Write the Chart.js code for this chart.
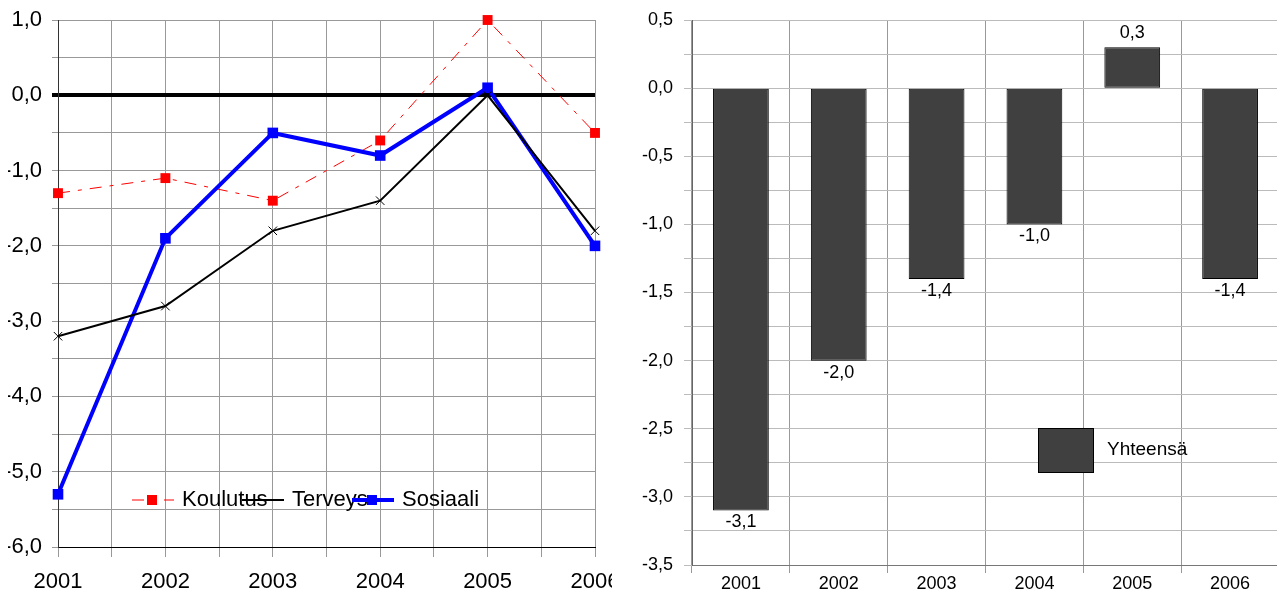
<!DOCTYPE html>
<html>
<head>
<meta charset="utf-8">
<script src="https://cdn.jsdelivr.net/npm/chart.js@4/dist/chart.umd.min.js"></script>
<style>
html, body { margin: 0; padding: 0; background: #fff; overflow: hidden; width: 1277px; height: 594px; }
#clip { position: absolute; left: 8px; top: 0; width: 604px; height: 594px; overflow: hidden; }
#left { position: absolute; left: -16px; top: 0; width: 620px; height: 594px; }
#right { position: absolute; left: 612px; top: 0; width: 670px; height: 594px; }
</style>
</head>
<body>
<div id="clip"><div id="left"><canvas id="lineChart"></canvas></div></div>
<div id="right"><canvas id="barChart"></canvas></div>
<script>
const years = [2001, 2002, 2003, 2004, 2005, 2006];
const koulutus = [-1.3, -1.1, -1.4, -0.6, 1.0, -0.5];
const terveys = [-3.2, -2.8, -1.8, -1.4, 0.0, -1.8];
const sosiaali = [-5.3, -1.9, -0.5, -0.8, 0.1, -2.0];
const yhteensa = [-3.1, -2.0, -1.4, -1.0, 0.3, -1.4];
const seriesNames = ['Koulutus', 'Terveys', 'Sosiaali'];
const totalName = 'Yhteensä';

const FONT = "'Liberation Sans', Arial, sans-serif";
Chart.defaults.font.family = FONT;
Chart.defaults.color = '#000';

const comma = v => v.toFixed(1).replace('.', ',');
const pts = vals => vals.map((v, i) => ({ x: years[i], y: v }));

// legend drawn inside the plot, like the original
const lineLegend = {
    id: 'lineLegend',
    afterDraw(chart) {
        const ctx = chart.ctx, a = chart.chartArea;
        const y = a.top + 480;
        ctx.save();
        ctx.font = '22px ' + FONT;
        ctx.textBaseline = 'middle';
        chart.data.datasets.forEach((ds, i) => {
            const x0 = a.left + 74 + i * 110;
            ctx.strokeStyle = ds.borderColor;
            ctx.lineWidth = ds.borderWidth;
            ctx.setLineDash(ds.borderDash || []);
            ctx.beginPath();
            ctx.moveTo(x0, y);
            ctx.lineTo(x0 + 42, y);
            ctx.stroke();
            ctx.setLineDash([]);
            if (ds.pointStyle === 'rect') {
                ctx.fillStyle = ds.borderColor;
                ctx.fillRect(x0 + 15, y - 5, 10, 10);
            }
            ctx.fillStyle = '#000';
            ctx.fillText(ds.label, x0 + 50, y);
        });
        ctx.restore();
    }
};

new Chart(document.getElementById('lineChart'), {
    type: 'line',
    data: {
        datasets: [
            {
                label: seriesNames[0], data: pts(koulutus),
                borderColor: '#ff0000', backgroundColor: '#ff0000', pointBackgroundColor: '#ff0000',
                borderWidth: 1, borderDash: [12, 8, 4, 8],
                pointStyle: 'rect', pointRadius: 7, pointBorderWidth: 0, clip: false, order: 3
            },
            {
                label: seriesNames[1], data: pts(terveys),
                borderColor: '#000', backgroundColor: '#000', pointBorderColor: '#000',
                borderWidth: 2,
                pointStyle: 'crossRot', pointRadius: 6, pointBorderWidth: 1, clip: false, order: 1
            },
            {
                label: seriesNames[2], data: pts(sosiaali),
                borderColor: '#0000ff', backgroundColor: '#0000ff', pointBackgroundColor: '#0000ff',
                borderWidth: 4,
                pointStyle: 'rect', pointRadius: 7.5, pointBorderWidth: 0, clip: false, order: 2
            }
        ]
    },
    options: {
        animation: false,
        responsive: true,
        maintainAspectRatio: false,
        layout: { padding: { left: 0, right: 17, top: 20, bottom: 0 } },
        plugins: { legend: { display: false }, tooltip: { enabled: false } },
        elements: { line: { tension: 0 } },
        scales: {
            x: {
                type: 'linear', min: 2001, max: 2006,
                ticks: {
                    stepSize: 0.5, autoSkip: false, maxRotation: 0, minRotation: 0,
                    font: { size: 22 }, padding: 12,
                    callback: v => Number.isInteger(v) ? String(v) : ''
                },
                grid: { color: '#999', tickLength: 10 },
                border: { color: '#000', width: 1 },
                afterFit: s => { s.height = 47; s.paddingLeft = 0; s.paddingRight = 0; }
            },
            y: {
                min: -6, max: 1,
                ticks: {
                    stepSize: 0.5, autoSkip: false, font: { size: 22 }, padding: 10,
                    callback: v => Number.isInteger(v) ? comma(v) : ''
                },
                grid: {
                    tickLength: 6,
                    color: c => c.tick && c.tick.value === 0 ? '#000' : '#999',
                    lineWidth: c => c.tick && c.tick.value === 0 ? 4 : 1
                },
                border: { color: '#333', width: 1 },
                afterFit: s => { s.width = 66; s.paddingTop = 0; s.paddingBottom = 0; }
            }
        }
    },
    plugins: [lineLegend]
});

const barLabels = {
    id: 'barLabels',
    afterDatasetsDraw(chart) {
        const ctx = chart.ctx;
        const meta = chart.getDatasetMeta(0);
        ctx.save();
        ctx.font = '18px ' + FONT;
        ctx.fillStyle = '#000';
        ctx.textAlign = 'center';
        ctx.textBaseline = 'middle';
        meta.data.forEach((bar, i) => {
            const v = chart.data.datasets[0].data[i];
            ctx.fillText(comma(v), bar.x, v < 0 ? bar.y + 12 : bar.y - 14);
        });
        ctx.restore();
    }
};

const barLegend = {
    id: 'barLegend',
    afterDraw(chart) {
        const ctx = chart.ctx, a = chart.chartArea;
        const ds = chart.data.datasets[0];
        ctx.save();
        ctx.fillStyle = ds.backgroundColor;
        ctx.fillRect(a.left + 346, a.top + 408, 56, 45);
        ctx.strokeStyle = ds.borderColor;
        ctx.lineWidth = 1;
        ctx.strokeRect(a.left + 346.5, a.top + 408.5, 55, 44);
        ctx.font = '19px ' + FONT;
        ctx.fillStyle = '#000';
        ctx.textBaseline = 'middle';
        ctx.fillText(ds.label, a.left + 415, a.top + 430);
        ctx.restore();
    }
};

new Chart(document.getElementById('barChart'), {
    type: 'bar',
    data: {
        labels: years.map(String),
        datasets: [{
            label: totalName, data: yhteensa,
            backgroundColor: '#404040', borderColor: '#000', borderWidth: 1, borderSkipped: false,
            categoryPercentage: 0.57, barPercentage: 1
        }]
    },
    options: {
        animation: false,
        responsive: true,
        maintainAspectRatio: false,
        layout: { padding: { left: 0, right: 3, top: 20, bottom: 0 } },
        plugins: { legend: { display: false }, tooltip: { enabled: false } },
        scales: {
            x: {
                ticks: { font: { size: 18 }, padding: 0, maxRotation: 0, autoSkip: false },
                grid: { color: '#999', tickLength: 8, offset: true },
                border: { color: '#777' },
                afterFit: s => { s.height = 29; s.paddingLeft = 0; s.paddingRight = 0; }
            },
            y: {
                min: -3.5, max: 0.5,
                ticks: {
                    stepSize: 0.25, autoSkip: false, font: { size: 18 }, padding: 11,
                    callback: v => Number.isInteger(Math.round(v * 1e6) / 5e5) ? comma(v) : ''
                },
                grid: { color: '#bbb', tickLength: 8 },
                border: { color: '#666' },
                afterFit: s => { s.width = 80; s.paddingTop = 0; s.paddingBottom = 0; }
            }
        }
    },
    plugins: [barLabels, barLegend]
});
</script>
</body>
</html>
